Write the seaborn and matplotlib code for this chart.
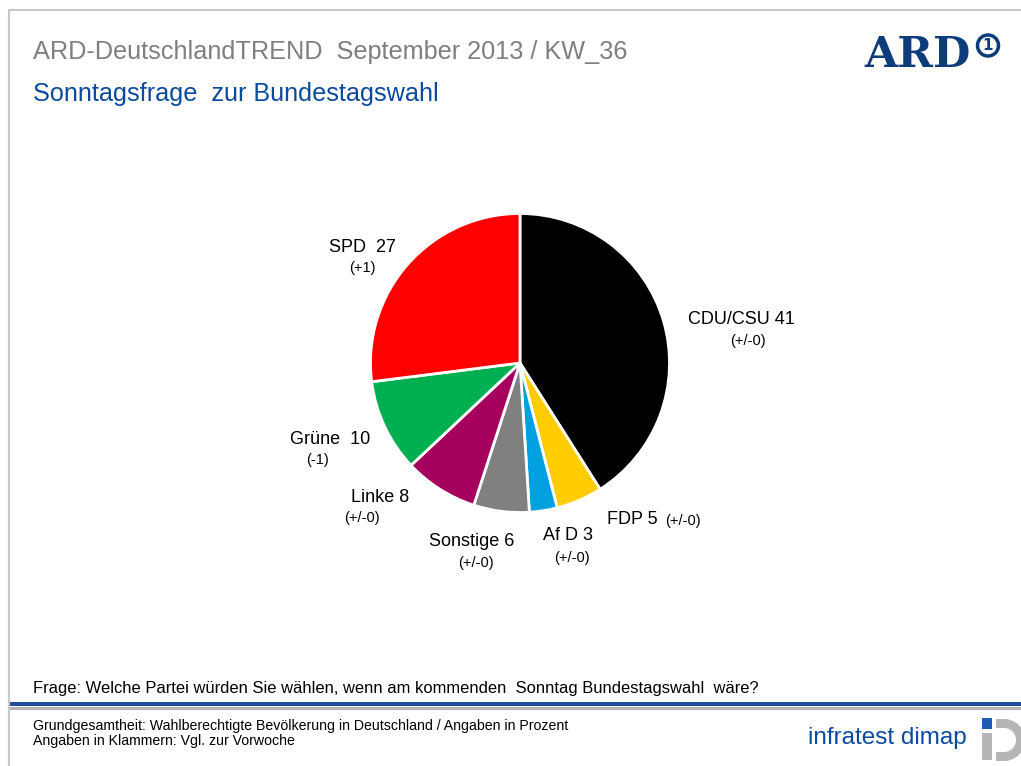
import matplotlib
matplotlib.use("Agg")
import matplotlib.pyplot as plt
import matplotlib.patches as mpatches
import seaborn as sns
import numpy as np

# ---- data ----
parties = ["CDU/CSU", "FDP", "AfD", "Sonstige", "Linke", "Grüne", "SPD"]
label_names = ["CDU/CSU", "FDP", "Af D", "Sonstige", "Linke", "Grüne ", "SPD "]
values = [41, 5, 3, 6, 8, 10, 27]
changes = ["(+/-0)", "(+/-0)", "(+/-0)", "(+/-0)", "(+/-0)", "(-1)", "(+1)"]
colors = ["#000000", "#FFCC00", "#009FE0", "#808080", "#A6005F", "#00AF4F", "#FF0000"]

title = "ARD-DeutschlandTREND  September 2013 / KW_36"
subtitle = "Sonntagsfrage  zur Bundestagswahl"
question = "Frage: Welche Partei würden Sie wählen, wenn am kommenden  Sonntag Bundestagswahl  wäre?"
foot1 = "Grundgesamtheit: Wahlberechtigte Bevölkerung in Deutschland / Angaben in Prozent"
foot2 = "Angaben in Klammern: Vgl. zur Vorwoche"

# label layout (pixel centers of first line and of the change line)
label_pos = [(741, 319), (632, 520), (568, 535), (472, 541), (380, 498), (330, 440), (362, 248)]
change_pos = [(748, 341), (683, 521), (572, 558), (476, 563), (362, 518), (317, 460), (362, 268)]

sns.set_theme(style="white")
plt.rcParams["font.family"] = ["Liberation Sans", "DejaVu Sans"]

W, H = 1021, 766
fig = plt.figure(figsize=(W / 100, H / 100), dpi=100)
fig.patch.set_facecolor("white")

# background axes in pixel coordinates
bg = fig.add_axes([0, 0, 1, 1])
bg.set_xlim(0, W)
bg.set_ylim(H, 0)
bg.axis("off")

# frame
bg.plot([9, W], [10, 10], color="#c8c8c8", lw=1.5)
bg.plot([9, 9], [10, H], color="#c8c8c8", lw=1.5)

# header
bg.text(33, 52, title, fontsize=18.2, color="#7f7f7f", va="center", ha="left")
bg.text(33, 94, subtitle, fontsize=18.2, color="#0b4a9e", va="center", ha="left")

# ARD logo
bg.text(864, 55, "ARD", fontsize=31, color="#0d3c7a", family=["DejaVu Serif"],
        fontweight="bold", va="center", ha="left")
bg.add_patch(mpatches.Circle((988, 45.5), 10.5, fill=False, ec="#0d3c7a", lw=2.5))
bg.text(988, 46, "1", fontsize=11, color="#0d3c7a", fontweight="bold",
        va="center", ha="center", family=["DejaVu Sans"])

# question and lines
bg.text(33, 689, question, fontsize=11.9, color="#000000", va="center", ha="left")
bg.add_patch(mpatches.Rectangle((9, 702), W - 9, 4, color="#1f4e9c", lw=0))
bg.add_patch(mpatches.Rectangle((9, 707), W - 9, 3, color="#b4b4b4", lw=0))
bg.text(33, 726, foot1, fontsize=10.2, color="#000000", va="center", ha="left")
bg.text(33, 741, foot2, fontsize=10.2, color="#000000", va="center", ha="left")

# infratest dimap logo
bg.text(808, 738, "infratest dimap", fontsize=17.5, color="#0b4a9e",
        va="center", ha="left")
bg.add_patch(mpatches.Wedge((1004, 740), 21, -90, 90, width=9, color="#b4b6b8", lw=0))
bg.add_patch(mpatches.Rectangle((996, 719), 8, 9, color="#b4b6b8", lw=0))
bg.add_patch(mpatches.Rectangle((996, 752), 8, 9, color="#b4b6b8", lw=0))
bg.add_patch(mpatches.Rectangle((982, 733), 10, 27, color="#b4b6b8", lw=0))
bg.add_patch(mpatches.Rectangle((982, 718), 10, 11, color="#1f5bb4", lw=0))

# pie axes
cx, cy, r = 520, 363, 151
ax = fig.add_axes([(cx - r) / W, 1 - (cy + r) / H, 2 * r / W, 2 * r / H])
ax.set_facecolor("none")
pal = sns.color_palette(colors)
ax.pie(values, colors=pal, startangle=90, counterclock=False, radius=1,
       wedgeprops=dict(edgecolor="white", linewidth=2))
ax.set_xlim(-1.01, 1.01)
ax.set_ylim(-1.01, 1.01)
ax.set_aspect("equal")
ax.axis("off")

for i, (name, v, ch) in enumerate(zip(label_names, values, changes)):
    bg.text(label_pos[i][0], label_pos[i][1], f"{name} {v}", fontsize=13,
            va="center", ha="center", color="black")
    bg.text(change_pos[i][0], change_pos[i][1], ch, fontsize=10.5,
            va="center", ha="center", color="black")

fig.savefig("out.png", dpi=100)
